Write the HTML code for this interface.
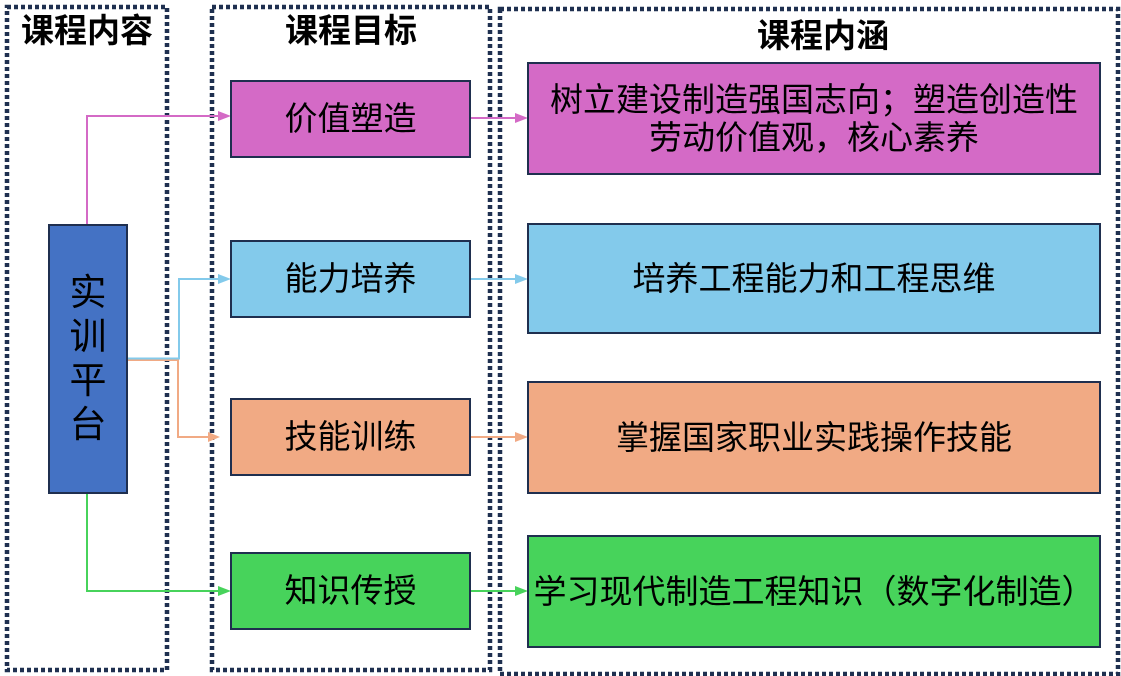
<!DOCTYPE html>
<html><head><meta charset="utf-8">
<style>
html,body{margin:0;padding:0;background:#fff;}
body{width:1121px;height:676px;position:relative;overflow:hidden;font-family:"Liberation Sans","Noto Sans CJK SC",sans-serif;color:#000;}
svg{position:absolute;left:0;top:0;}
.box{position:absolute;box-sizing:border-box;border:2px solid #1f2f4f;display:flex;align-items:center;justify-content:center;text-align:center;font-size:33px;line-height:38px;white-space:nowrap;}
.t{position:absolute;font-weight:bold;font-size:33px;line-height:36px;white-space:nowrap;transform:translateX(-50%);}
.p{background:#d46ac6;}
.b{background:#83caeb;}
.o{background:#f1aa84;}
.g{background:#47d35b;}
</style></head><body>
<svg width="1121" height="676" viewBox="0 0 1121 676">
 <g fill="none" stroke="#1f3050" stroke-width="4.5" stroke-dasharray="4 3">
  <rect x="7" y="7" width="160" height="663"/>
  <rect x="212" y="7" width="278" height="663"/>
  <rect x="500" y="9" width="618" height="665"/>
 </g>
 <!-- pink -->
 <polyline points="87,224 87,116 219,116" fill="none" stroke="#d46ac6" stroke-width="2"/>
 <polygon points="218,111 231,116 218,121" fill="#d46ac6"/>
 <line x1="470" y1="118" x2="516" y2="118" stroke="#d46ac6" stroke-width="2"/>
 <polygon points="515,113 528,118 515,123" fill="#d46ac6"/>
 <!-- orange -->
 <polyline points="128,360 178,360 178,437 209,437" fill="none" stroke="#f1aa84" stroke-width="2"/>
 <polygon points="208,432 220,437 208,442" fill="#f1aa84"/>
 <line x1="470" y1="437" x2="516" y2="437" stroke="#f1aa84" stroke-width="2"/>
 <polygon points="515,432 528,437 515,442" fill="#f1aa84"/>
 <!-- blue -->
 <polyline points="128,358.5 179,358.5 179,279 219,279" fill="none" stroke="#83caeb" stroke-width="2"/>
 <polygon points="218,274 231,279 218,284" fill="#83caeb"/>
 <line x1="470" y1="279" x2="516" y2="279" stroke="#83caeb" stroke-width="2"/>
 <polygon points="515,274 528,279 515,284" fill="#83caeb"/>
 <!-- green -->
 <polyline points="87,494 87,591 219,591" fill="none" stroke="#47d35b" stroke-width="2"/>
 <polygon points="218,586 231,591 218,596" fill="#47d35b"/>
 <line x1="470" y1="591" x2="516" y2="591" stroke="#47d35b" stroke-width="2"/>
 <polygon points="515,586 528,591 515,596" fill="#47d35b"/>
</svg>

<div class="t" style="left:87px;top:13px;">课程内容</div>
<div class="t" style="left:351px;top:13px;">课程目标</div>
<div class="t" style="left:823px;top:18px;">课程内涵</div>

<div class="box" style="left:48px;top:224px;width:80px;height:270px;background:#4472c4;flex-direction:column;font-size:37px;line-height:44px;">
 <div>实</div><div>训</div><div>平</div><div>台</div>
</div>

<div class="box p" style="left:230px;top:80px;width:241px;height:78px;">价值塑造</div>
<div class="box b" style="left:230px;top:240px;width:241px;height:78px;">能力培养</div>
<div class="box o" style="left:230px;top:398px;width:241px;height:78px;">技能训练</div>
<div class="box g" style="left:230px;top:552px;width:241px;height:78px;">知识传授</div>

<div class="box p" style="left:527px;top:62px;width:574px;height:113px;font-size:33px;">树立建设制造强国志向；塑造创造性<br>劳动价值观，核心素养</div>
<div class="box b" style="left:527px;top:223px;width:574px;height:111px;font-size:33px;">培养工程能力和工程思维</div>
<div class="box o" style="left:527px;top:381px;width:574px;height:113px;font-size:33px;">掌握国家职业实践操作技能</div>
<div class="box g" style="left:527px;top:535px;width:574px;height:113px;font-size:33px;">学习现代制造工程知识（数字化制造）</div>
</body></html>
